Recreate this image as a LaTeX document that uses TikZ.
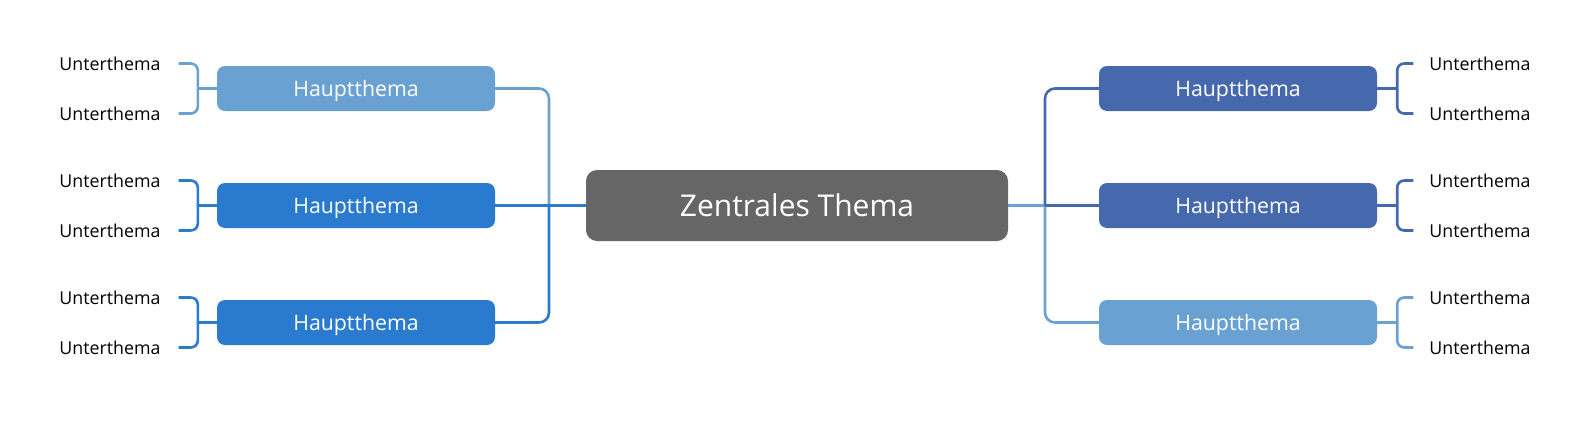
\documentclass[tikz,border=0pt]{standalone}
\usepackage{fontspec}
\setmainfont{Open Sans}
\usepackage{tikz}
\usetikzlibrary{positioning}

\definecolor{hlite}{HTML}{6AA1D3}
\definecolor{hblue}{HTML}{2A7BD0}
\definecolor{hdark}{HTML}{4669AD}
\definecolor{zgray}{HTML}{666666}

\begin{document}
\begin{tikzpicture}[x=1pt,y=-1pt]
\tikzset{Z/.style={rectangle,rounded corners=11pt,fill=zgray,text=white,minimum width=422pt,minimum height=71pt,text depth=1pt,font=\fontsize{30}{35}\selectfont}}
\tikzset{H/.style={rectangle,rounded corners=8pt,text=white,minimum width=278pt,minimum height=45pt,text depth=0pt,font=\fontsize{21.3}{25}\selectfont}}
\tikzset{U/.style={inner sep=0pt,font=\fontsize{17.8}{21}\selectfont}}
\tikzset{L/.style={line width=2.6pt}}

  \useasboundingbox (0,0) rectangle (1595,426);

  \node[Z] (z) at (797,205.5) {Zentrales Thema};

  \node[H,fill=hlite] (h1) at (356,88.5)  {Hauptthema};
  \node[H,fill=hblue] (h2) at (356,205.5) {Hauptthema};
  \node[H,fill=hblue] (h3) at (356,322.5) {Hauptthema};

  \node[H,fill=hdark] (r1) at (1238,88.5)  {Hauptthema};
  \node[H,fill=hdark] (r2) at (1238,205.5) {Hauptthema};
  \node[H,fill=hlite] (r3) at (1238,322.5) {Hauptthema};

  \node[U] (u1) at (110,63.5)  {Unterthema};
  \node[U] (u2) at (110,113.5) {Unterthema};
  \node[U] (u3) at (110,180.5) {Unterthema};
  \node[U] (u4) at (110,230.5) {Unterthema};
  \node[U] (u5) at (110,297.5) {Unterthema};
  \node[U] (u6) at (110,347.5) {Unterthema};

  \node[U] (v1) at (1480,63.5)  {Unterthema};
  \node[U] (v2) at (1480,113.5) {Unterthema};
  \node[U] (v3) at (1480,180.5) {Unterthema};
  \node[U] (v4) at (1480,230.5) {Unterthema};
  \node[U] (v5) at (1480,297.5) {Unterthema};
  \node[U] (v6) at (1480,347.5) {Unterthema};

  \coordinate (jl) at (549,205.5);
  \coordinate (jr) at (1045,205.5);

  % left side
  \draw[L,hlite,rounded corners=10pt] (h1.east) -| (jl);
  \draw[L,hblue,rounded corners=10pt] (h3.east) -| (jl);
  \draw[L,hblue] (h2.east) -- (z.west);

  % right side
  \draw[L,hlite] (z.east) -- (jr);
  \draw[L,hlite,rounded corners=10pt] (jr) |- (r3.west);
  \draw[L,hdark,rounded corners=10pt] (jr) |- (r1.west);
  \draw[L,hdark] (jr) -- (r2.west);

  % brackets left
  \draw[L,hlite] (h1.west) -- ++(-19,0);
  \draw[L,hlite,rounded corners=7pt] ([xshift=18pt]u1.east) -| ([xshift=-19pt]h1.west) |- ([xshift=18pt]u2.east);
  \draw[L,hblue] (h2.west) -- ++(-19,0);
  \draw[L,hblue,rounded corners=7pt] ([xshift=18pt]u3.east) -| ([xshift=-19pt]h2.west) |- ([xshift=18pt]u4.east);
  \draw[L,hblue] (h3.west) -- ++(-19,0);
  \draw[L,hblue,rounded corners=7pt] ([xshift=18pt]u5.east) -| ([xshift=-19pt]h3.west) |- ([xshift=18pt]u6.east);

  % brackets right
  \draw[L,hdark] (r1.east) -- ++(20,0);
  \draw[L,hdark,rounded corners=7pt] ([xshift=-16pt]v1.west) -| ([xshift=20pt]r1.east) |- ([xshift=-16pt]v2.west);
  \draw[L,hdark] (r2.east) -- ++(20,0);
  \draw[L,hdark,rounded corners=7pt] ([xshift=-16pt]v3.west) -| ([xshift=20pt]r2.east) |- ([xshift=-16pt]v4.west);
  \draw[L,hlite] (r3.east) -- ++(20,0);
  \draw[L,hlite,rounded corners=7pt] ([xshift=-16pt]v5.west) -| ([xshift=20pt]r3.east) |- ([xshift=-16pt]v6.west);
\end{tikzpicture}
\end{document}
